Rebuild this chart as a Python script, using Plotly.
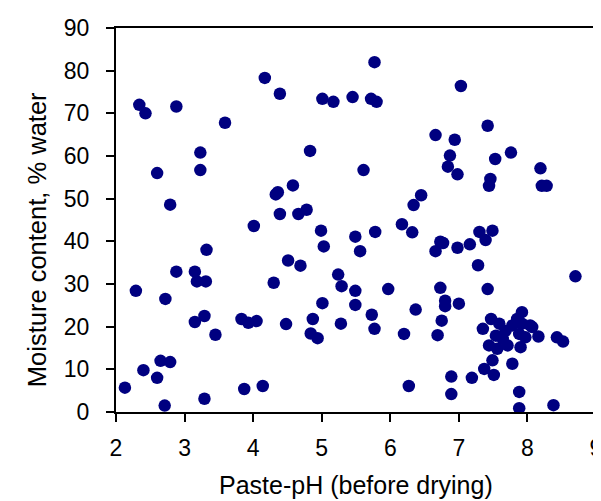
import plotly.graph_objects as go

paste_ph = [
    2.34, 2.43, 2.88, 2.60, 2.79, 3.23, 3.23, 3.59, 4.17, 4.39, 5.01, 5.17, 4.83, 4.36, 4.33,
    4.58, 4.39, 4.66, 4.78, 5.77, 7.03, 5.45, 5.72, 5.80, 5.61, 6.66, 6.94, 7.42, 6.87, 6.84,
    6.98, 7.76, 7.53, 8.19, 7.46, 7.44, 8.21, 8.28, 6.45, 6.34, 4.01, 4.99, 5.03, 3.32, 4.51,
    4.69, 2.88, 3.15, 3.18, 3.31, 4.30, 5.24, 5.29, 2.29, 2.72, 5.01, 3.15, 3.29, 3.45, 3.83,
    3.93, 4.05, 4.48, 4.87, 4.84, 4.94, 5.28, 2.65, 2.79, 2.40, 2.60, 2.13, 2.71, 3.29, 3.87,
    4.14, 6.17, 6.32, 5.49, 5.78, 5.56, 6.73, 6.77, 6.66, 6.98, 7.16, 7.30, 7.49, 7.39, 7.28,
    8.70, 5.49, 5.97, 6.73, 7.42, 5.49, 5.73, 5.77, 6.37, 6.80, 6.80, 7.00, 6.75, 6.69, 6.20,
    6.27, 6.89, 6.89, 7.19, 7.37, 7.49, 7.51, 7.78, 7.88, 7.88, 8.38, 8.43, 8.52, 7.35,
    7.47, 7.59, 7.92, 7.85, 8.04, 8.16, 7.78, 7.44, 7.56, 7.71, 7.90, 7.54, 7.64, 7.88, 7.97,
    7.92, 8.07, 7.68,
]
moisture = [
    72.0, 70.0, 71.6, 56.0, 48.6, 60.8, 56.7, 67.8, 78.3, 74.6, 73.4, 72.7, 61.2, 51.5, 51.0,
    53.1, 46.4, 46.4, 47.4, 82.0, 76.4, 73.8, 73.4, 72.7, 56.7, 64.9, 63.8, 67.1, 60.1, 57.5,
    55.7, 60.8, 59.3, 57.1, 54.6, 53.0, 53.0, 53.0, 50.8, 48.5, 43.6, 42.5, 38.8, 38.0, 35.5,
    34.3, 32.9, 32.9, 30.6, 30.6, 30.3, 32.2, 29.5, 28.4, 26.5, 25.5, 21.1, 22.5, 18.1, 21.8,
    20.9, 21.3, 20.6, 21.8, 18.4, 17.3, 20.7, 12.0, 11.7, 9.8, 8.0, 5.7, 1.5, 3.1, 5.4,
    6.1, 44.0, 42.1, 41.1, 42.2, 37.7, 39.9, 39.6, 37.7, 38.5, 39.3, 42.2, 42.5, 40.3, 34.4,
    31.8, 28.4, 28.8, 29.1, 28.8, 25.1, 22.8, 19.5, 24.0, 26.1, 24.8, 25.4, 21.4, 18.0, 18.3,
    6.1, 8.3, 4.2, 8.0, 10.1, 12.1, 8.7, 11.3, 4.7, 0.9, 1.6, 17.5, 16.5, 19.5,
    21.8, 20.7, 23.4, 21.8, 20.3, 17.7, 20.3, 15.6, 14.8, 15.6, 15.2, 17.9, 17.1, 18.3, 17.5,
    20.7, 19.9, 19.0,
]

x_ticks = [2, 3, 4, 5, 6, 7, 8, 9]
y_ticks = [0, 10, 20, 30, 40, 50, 60, 70, 80, 90]
x_title = "Paste-pH (before drying)"
y_title = "Moisture content, % water"

FONT = "Liberation Sans, Arial, sans-serif"

fig = go.Figure(go.Scatter(
    x=paste_ph, y=moisture, mode="markers",
    marker=dict(color="#000080", size=12.5, line=dict(width=0)),
    showlegend=False,
))

axis_common = dict(
    showgrid=False, zeroline=False, showline=True, linecolor="black", linewidth=2,
    mirror=True, ticks="outside", ticklen=8, tickwidth=2, tickcolor="black",
    tickfont=dict(family=FONT, size=23, color="black"),
)

fig.update_layout(
    width=601, height=501,
    margin=dict(l=108, r=7, t=18, b=97),
    paper_bgcolor="white", plot_bgcolor="white",
    font=dict(family=FONT, color="black"),
    xaxis=dict(range=[2, 9], tickvals=x_ticks, ticklabelstandoff=6, **axis_common),
    yaxis=dict(range=[0, 90], tickvals=y_ticks, ticklabelstandoff=12, **axis_common),
    annotations=[
        dict(text=x_title, xref="paper", yref="paper", x=0.5, y=-0.19,
             xanchor="center", yanchor="middle", showarrow=False,
             font=dict(family=FONT, size=25, color="black")),
        dict(text=y_title, xref="paper", yref="paper", x=-0.1646, y=0.45,
             xanchor="center", yanchor="middle", showarrow=False, textangle=-90,
             font=dict(family=FONT, size=25.5, color="black")),
    ],
)

fig.write_html("out.html")
